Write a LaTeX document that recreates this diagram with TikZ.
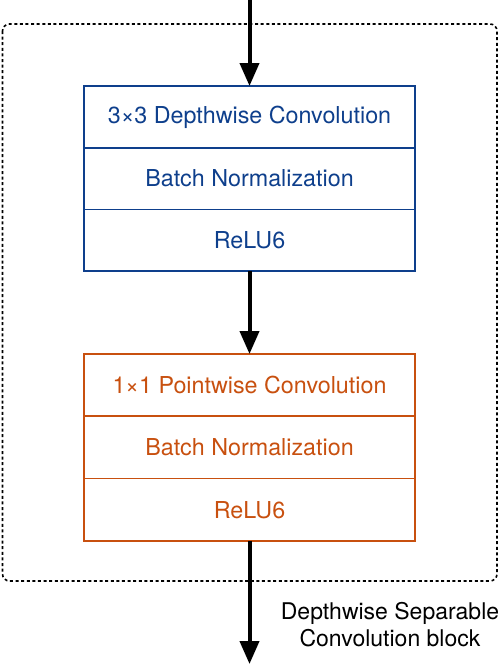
\documentclass[tikz,border=0pt]{standalone}
\usepackage{fontspec}
\setmainfont{TeX Gyre Heros}
\usetikzlibrary{arrows.meta,positioning}
\definecolor{dwblue}{HTML}{0E3F8C}
\definecolor{pworange}{HTML}{C8500F}
\begin{document}
\begin{tikzpicture}[x=1pt,y=-1pt,
  row/.style={draw, line width=1.7pt, minimum width=331pt, minimum height=62pt, inner sep=0pt, outer sep=0pt, anchor=north, font=\fontsize{23.3}{28}\selectfont},
  bluerow/.style={row, draw=dwblue, text=dwblue, minimum height=61.7pt},
  orangerow/.style={row, draw=pworange, text=pworange, minimum height=62.3pt},
  arr/.style={line width=4pt, -{Triangle[width=19pt,length=23pt]}},
  group/.style={draw, line width=1.6pt, dash pattern=on 3pt off 2.6pt, rounded corners=7pt}]
\useasboundingbox (0,0) rectangle (500,665);
\draw[group] (2.5,24) rectangle (497,581);
\node[bluerow] (d1) at (249.5,86) {3\texttimes3 Depthwise Convolution};
\node[bluerow] (d2) at (d1.south) {Batch Normalization};
\node[bluerow] (d3) at (d2.south) {ReLU6};
\node[orangerow] (p1) at (249.5,354) {1\texttimes1 Pointwise Convolution};
\node[orangerow] (p2) at (p1.south) {Batch Normalization};
\node[orangerow] (p3) at (p2.south) {ReLU6};
\coordinate (in) at (249.5,0);
\coordinate (out) at (249.5,664);
\draw[arr] (in) -- (d1.north);
\draw[arr] (d3.south) -- (p1.north);
\draw[arr] (p3.south) -- (out);
\node[align=center, font=\fontsize{23}{27}\selectfont] (lbl) at (390,625) {Depthwise Separable\\Convolution block};
\end{tikzpicture}
\end{document}
